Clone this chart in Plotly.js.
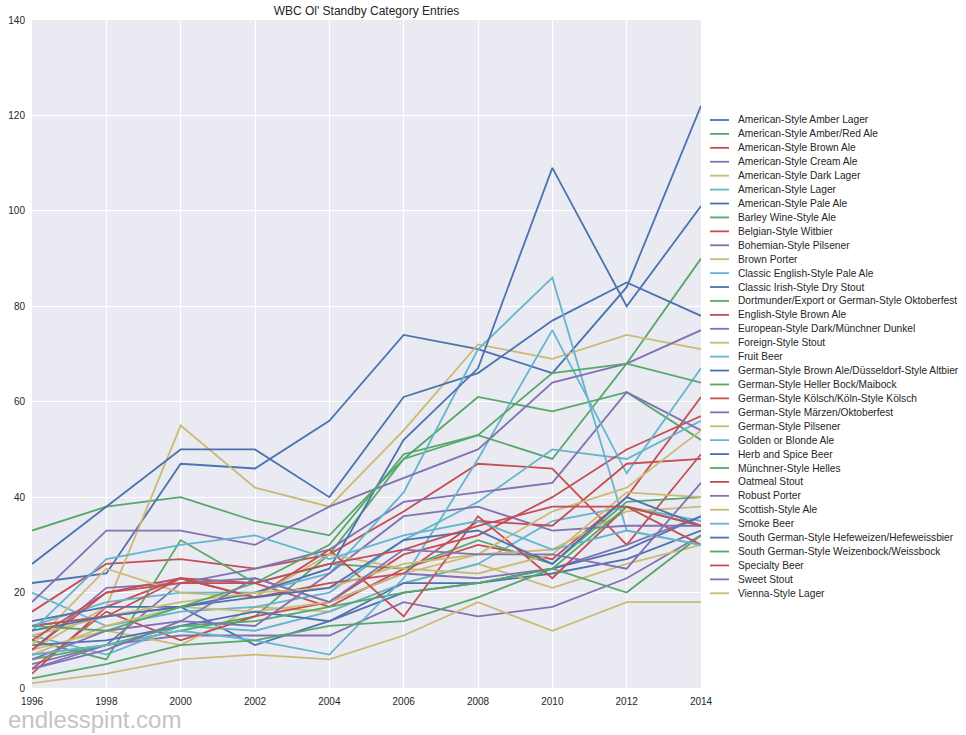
<!DOCTYPE html>
<html>
<head>
<meta charset="utf-8">
<script src="https://cdn.plot.ly/plotly-3.0.1.min.js"></script>
<style>html,body{margin:0;padding:0;background:#fff;}#chart{width:966px;height:735px;}</style>
</head>
<body>
<div id="chart"></div>
<script>
var years = [1996, 1998, 2000, 2002, 2004, 2006, 2008, 2010, 2012, 2014];

var categories = [
  "American-Style Amber Lager",
  "American-Style Amber/Red Ale",
  "American-Style Brown Ale",
  "American-Style Cream Ale",
  "American-Style Dark Lager",
  "American-Style Lager",
  "American-Style Pale Ale",
  "Barley Wine-Style Ale",
  "Belgian-Style Witbier",
  "Bohemian-Style Pilsener",
  "Brown Porter",
  "Classic English-Style Pale Ale",
  "Classic Irish-Style Dry Stout",
  "Dortmunder/Export or German-Style Oktoberfest",
  "English-Style Brown Ale",
  "European-Style Dark/Münchner Dunkel",
  "Foreign-Style Stout",
  "Fruit Beer",
  "German-Style Brown Ale/Düsseldorf-Style Altbier",
  "German-Style Heller Bock/Maibock",
  "German-Style Kölsch/Köln-Style Kölsch",
  "German-Style Märzen/Oktoberfest",
  "German-Style Pilsener",
  "Golden or Blonde Ale",
  "Herb and Spice Beer",
  "Münchner-Style Helles",
  "Oatmeal Stout",
  "Robust Porter",
  "Scottish-Style Ale",
  "Smoke Beer",
  "South German-Style Hefeweizen/Hefeweissbier",
  "South German-Style Weizenbock/Weissbock",
  "Specialty Beer",
  "Sweet Stout",
  "Vienna-Style Lager"
];

var amberLager      = [13, 15, 17, 9, 14, 20, 22, 24, 27, 33];
var amberRedAle     = [33, 38, 40, 35, 32, 48, 61, 58, 62, 52];
var amBrownAle      = [16, 26, 27, 25, 28, 37, 47, 46, 30, 49];
var creamAle        = [5, 9, 11, 11, 11, 18, 15, 17, 23, 32];
var darkLager       = [8, 12, 9, 17, 16, 22, 26, 21, 26, 30];
var amLager         = [11, 7, 13, 12, 16, 22, 26, 35, 38, 35];
var amPaleAle       = [22, 24, 47, 46, 56, 74, 71, 66, 84, 122];
var barleyWine      = [7, 9, 12, 15, 28, 48, 53, 48, 68, 90];
var witbier         = [3, 17, 23, 22, 17, 25, 30, 27, 40, 61];
var bohemianPils    = [4, 9, 22, 23, 18, 24, 23, 25, 30, 36];
var brownPorter     = [8, 17, 55, 42, 38, 54, 72, 69, 74, 71];
var engPaleAle      = [20, 13, 16, 17, 20, 31, 39, 50, 48, 56];
var irishStout      = [26, 38, 50, 50, 40, 61, 66, 77, 85, 78];
var dortmunder      = [10, 6, 31, 22, 26, 25, 31, 26, 39, 40];
var engBrownAle     = [4, 16, 10, 15, 18, 28, 32, 40, 50, 57];
var euroDark        = [8, 21, 22, 25, 29, 39, 41, 43, 62, 54];
var foreignStout    = [7, 13, 17, 16, 18, 24, 28, 29, 37, 38];
var fruitBeer       = [13, 18, 20, 20, 24, 41, 71, 86, 33, 30];
var altbier         = [9, 10, 13, 16, 14, 22, 22, 25, 29, 36];
var hellerBock      = [6, 9, 13, 14, 17, 20, 22, 25, 20, 32];
var kolsch          = [8, 20, 23, 19, 29, 15, 36, 23, 38, 30];
var marzen          = [6, 12, 14, 13, 24, 36, 38, 33, 34, 34];
var germanPils      = [9, 25, 20, 19, 28, 25, 24, 28, 41, 40];
var goldenAle       = [7, 9, 12, 10, 7, 23, 48, 75, 45, 67];
var herbSpice       = [14, 17, 17, 20, 25, 52, 67, 109, 80, 101];
var helles          = [2, 5, 9, 10, 13, 14, 19, 25, 38, 34];
var oatmealStout    = [13, 15, 23, 19, 22, 24, 35, 34, 47, 48];
var robustPorter    = [18, 33, 33, 30, 38, 44, 50, 64, 68, 75];
var scottishAle     = [11, 15, 18, 20, 21, 26, 28, 37, 42, 54];
var smokeBeer       = [12, 27, 30, 32, 27, 32, 35, 29, 33, 30];
var hefeweizen      = [12, 15, 17, 19, 21, 31, 33, 26, 40, 34];
var weizenbock      = [13, 12, 17, 22, 30, 49, 53, 66, 68, 64];
var specialty       = [10, 20, 22, 22, 26, 29, 34, 38, 38, 34];
var sweetStout      = [4, 8, 14, 23, 18, 29, 28, 28, 25, 43];
var viennaLager     = [1, 3, 6, 7, 6, 11, 18, 12, 18, 18];

var seriesValues = [
  amberLager, amberRedAle, amBrownAle, creamAle, darkLager, amLager,
  amPaleAle, barleyWine, witbier, bohemianPils, brownPorter, engPaleAle,
  irishStout, dortmunder, engBrownAle, euroDark, foreignStout, fruitBeer,
  altbier, hellerBock, kolsch, marzen, germanPils, goldenAle,
  herbSpice, helles, oatmealStout, robustPorter, scottishAle, smokeBeer,
  hefeweizen, weizenbock, specialty, sweetStout, viennaLager
];

var palette = ["#4C72B0", "#55A868", "#C44E52", "#8172B2", "#CCB974", "#64B5CD"];

var traces = categories.map(function (name, i) {
  return {
    type: "scatter",
    mode: "lines",
    name: name,
    x: years,
    y: seriesValues[i],
    line: { color: palette[i % palette.length], width: 1.8 },
    showlegend: false,
    hoverinfo: "x+y+name"
  };
});

// Plot area geometry (pixels)
var W = 966, H = 735;
var L = 32, R = 701, T = 20, B = 688;
function px2paperX(p) { return (p - L) / (R - L); }
function px2paperY(p) { return (B - p) / (B - T); }

var shapes = [];
var annotations = [];
var legTop = 120, legStep = 13.92;
categories.forEach(function (name, i) {
  var py = legTop + i * legStep;
  shapes.push({
    type: "line", xref: "paper", yref: "paper",
    x0: px2paperX(710), x1: px2paperX(729),
    y0: px2paperY(py), y1: px2paperY(py),
    line: { color: palette[i % palette.length], width: 1.8 }
  });
  annotations.push({
    xref: "paper", yref: "paper",
    x: px2paperX(736), y: px2paperY(py),
    xanchor: "left", yanchor: "middle",
    text: name, showarrow: false,
    font: { family: "Liberation Sans, Arial, sans-serif", size: 10.2, color: "#262626" }
  });
});

annotations.push({
  xref: "paper", yref: "paper",
  x: px2paperX(6), y: px2paperY(719),
  xanchor: "left", yanchor: "middle",
  text: "endlesspint.com", showarrow: false,
  font: { family: "Liberation Sans, Arial, sans-serif", size: 24, color: "#c4c4c4" }
});

var layout = {
  width: W, height: H,
  margin: { l: L, r: W - R, t: T, b: H - B, pad: 0 },
  paper_bgcolor: "#ffffff",
  plot_bgcolor: "#EAEAF2",
  title: {
    text: "WBC Ol' Standby Category Entries",
    x: (L + R) / 2 / W, xanchor: "center",
    y: 1 - 11 / H, yanchor: "middle",
    font: { family: "Liberation Sans, Arial, sans-serif", size: 12, color: "#262626" }
  },
  xaxis: {
    range: [1996, 2014],
    tickvals: years,
    ticktext: years.map(String),
    showgrid: true, gridcolor: "#ffffff", gridwidth: 1,
    zeroline: false, showline: false, ticks: "",
    ticklabelstandoff: 6,
    tickfont: { family: "Liberation Sans, Arial, sans-serif", size: 10, color: "#262626" }
  },
  yaxis: {
    range: [0, 140],
    tick0: 0, dtick: 20,
    showgrid: true, gridcolor: "#ffffff", gridwidth: 1,
    zeroline: false, showline: false, ticks: "",
    ticklabelstandoff: 6,
    tickfont: { family: "Liberation Sans, Arial, sans-serif", size: 10, color: "#262626" }
  },
  showlegend: false,
  shapes: shapes,
  annotations: annotations
};

Plotly.newPlot("chart", traces, layout, { displayModeBar: false, staticPlot: true });
</script>
</body>
</html>
